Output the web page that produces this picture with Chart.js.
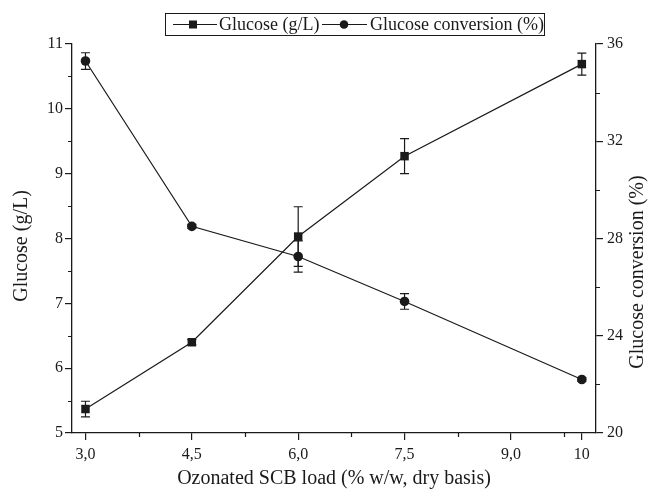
<!DOCTYPE html>
<html>
<head>
<meta charset="utf-8">
<script src="https://cdn.jsdelivr.net/npm/chart.js@4.4.0/dist/chart.umd.min.js"></script>
<style>
  html, body { margin: 0; padding: 0; background: #fff; }
  #wrap { width: 649px; height: 493px; }
</style>
</head>
<body>
<div id="wrap"><canvas id="chart" width="649" height="493"></canvas></div>
<script>
// Dados
const loads = [3.0, 4.5, 6.0, 7.5, 10];
const glucose = [5.37, 6.40, 8.03, 9.27, 10.69];
const glucoseErr = [0.12, 0.04, 0.46, 0.27, 0.17];
const conversion = [35.3, 28.5, 27.26, 25.41, 22.2];
const conversionErr = [0.34, 0.08, 0.64, 0.32, 0.08];

// Ticks
const xTicks = [3.0, 4.5, 6.0, 7.5, 9.0, 10];
const xTickLabels = ['3,0', '4,5', '6,0', '7,5', '9,0', '10'];
const xMinor = [3.75, 5.25, 6.75, 8.25, 9.75];
const leftTicks = [5, 6, 7, 8, 9, 10, 11];
const leftMinor = [5.5, 6.5, 7.5, 8.5, 9.5, 10.5];
const rightTicks = [20, 24, 28, 32, 36];
const rightMinor = [22, 26, 30, 34];

const FONT = "'Liberation Serif', 'Times New Roman', serif";
const INK = '#1a1a1a';

function toPoints(xs, ys) {
  return xs.map((x, i) => ({ x: x, y: ys[i] }));
}

// Plugin: barras de erro, ticks menores, títulos e legenda
const extras = {
  id: 'extras',
  beforeDatasetsDraw(chart) {
    const ctx = chart.ctx;
    const x = chart.scales.x;
    ctx.save();
    ctx.strokeStyle = INK;
    ctx.lineWidth = 1.2;
    const drawErr = (vals, errs, scale) => {
      vals.forEach((v, i) => {
        const px = x.getPixelForValue(loads[i]);
        const top = scale.getPixelForValue(v + errs[i]);
        const bot = scale.getPixelForValue(v - errs[i]);
        ctx.beginPath();
        ctx.moveTo(px, top); ctx.lineTo(px, bot);
        ctx.moveTo(px - 4.5, top); ctx.lineTo(px + 4.5, top);
        ctx.moveTo(px - 4.5, bot); ctx.lineTo(px + 4.5, bot);
        ctx.stroke();
      });
    };
    drawErr(glucose, glucoseErr, chart.scales.y);
    drawErr(conversion, conversionErr, chart.scales.y1);
    ctx.restore();
  },
  afterDraw(chart) {
    const ctx = chart.ctx;
    const area = chart.chartArea;
    const { x, y, y1 } = chart.scales;
    ctx.save();
    ctx.strokeStyle = INK;
    ctx.lineWidth = 1.2;

    // ticks menores
    ctx.beginPath();
    xMinor.forEach(v => {
      const p = Math.round(x.getPixelForValue(v)) + 0.5;
      ctx.moveTo(p, area.bottom); ctx.lineTo(p, area.bottom + 4);
    });
    leftMinor.forEach(v => {
      const p = Math.round(y.getPixelForValue(v)) + 0.5;
      ctx.moveTo(area.left, p); ctx.lineTo(area.left - 4, p);
    });
    rightMinor.forEach(v => {
      const p = Math.round(y1.getPixelForValue(v)) + 0.5;
      ctx.moveTo(area.right, p); ctx.lineTo(area.right + 4, p);
    });
    ctx.stroke();

    // títulos dos eixos
    ctx.fillStyle = INK;
    ctx.font = '20px ' + FONT;
    ctx.textAlign = 'center';
    ctx.textBaseline = 'middle';
    ctx.fillText('Ozonated SCB load (% w/w, dry basis)', (area.left + area.right) / 2, 479);

    ctx.save();
    ctx.translate(22, 246);
    ctx.rotate(-Math.PI / 2);
    ctx.fillText('Glucose (g/L)', 0, 0);
    ctx.restore();

    ctx.save();
    ctx.translate(638, 272);
    ctx.rotate(-Math.PI / 2);
    ctx.fillText('Glucose conversion (%)', 0, 0);
    ctx.restore();

    // legenda
    ctx.lineWidth = 1;
    ctx.strokeRect(165.5, 13.5, 379, 22);
    const ly = 24.5;
    ctx.lineWidth = 1.2;
    ctx.beginPath();
    ctx.moveTo(173, ly); ctx.lineTo(217, ly);
    ctx.moveTo(322, ly); ctx.lineTo(367, ly);
    ctx.stroke();
    ctx.fillRect(189, ly - 4, 8, 8);
    ctx.beginPath();
    ctx.arc(344, ly, 4.3, 0, Math.PI * 2);
    ctx.fill();
    ctx.font = '18px ' + FONT;
    ctx.textAlign = 'left';
    ctx.fillText('Glucose (g/L)', 219, ly + 1);
    ctx.fillText('Glucose conversion (%)', 370, ly + 1);
    ctx.restore();
  }
};

const tickFont = { family: FONT, size: 16 };

const chart = new Chart(document.getElementById('chart'), {
  type: 'line',
  data: {
    datasets: [
      {
        label: 'Glucose (g/L)',
        data: toPoints(loads, glucose),
        yAxisID: 'y',
        borderColor: INK,
        backgroundColor: INK,
        borderWidth: 1.2,
        pointStyle: 'rect',
        pointRadius: 6,
        pointBackgroundColor: INK,
        pointBorderWidth: 0,
        tension: 0
      },
      {
        label: 'Glucose conversion (%)',
        data: toPoints(loads, conversion),
        yAxisID: 'y1',
        borderColor: INK,
        backgroundColor: INK,
        borderWidth: 1.2,
        pointStyle: 'circle',
        pointRadius: 4.8,
        pointBackgroundColor: INK,
        pointBorderWidth: 0,
        tension: 0
      }
    ]
  },
  options: {
    responsive: false,
    animation: false,
    layout: { padding: { top: 44, left: 0, right: 0, bottom: 0 } },
    plugins: {
      legend: { display: false },
      tooltip: { enabled: false }
    },
    scales: {
      x: {
        type: 'linear',
        min: 2.81,
        max: 10.2,
        afterBuildTicks: s => { s.ticks = xTicks.map(v => ({ value: v })); },
        afterFit: s => { s.height = 60; },
        ticks: {
          color: INK,
          font: tickFont,
          padding: 5,
          maxRotation: 0,
          autoSkip: false,
          callback: (v, i) => xTickLabels[i]
        },
        grid: { drawOnChartArea: false, drawTicks: true, tickLength: 7, color: INK, lineWidth: 1.2 },
        border: { color: INK, width: 1.3 }
      },
      y: {
        position: 'left',
        min: 5,
        max: 11,
        afterBuildTicks: s => { s.ticks = leftTicks.map(v => ({ value: v })); },
        afterFit: s => { s.width = 72; },
        ticks: { color: INK, font: tickFont, padding: 2, autoSkip: false },
        grid: { drawOnChartArea: false, drawTicks: true, tickLength: 7, color: INK, lineWidth: 1.2 },
        border: { color: INK, width: 1.3 }
      },
      y1: {
        position: 'right',
        min: 20,
        max: 36,
        afterBuildTicks: s => { s.ticks = rightTicks.map(v => ({ value: v })); },
        afterFit: s => { s.width = 53; },
        ticks: { color: INK, font: tickFont, padding: 4, autoSkip: false },
        grid: { drawOnChartArea: false, drawTicks: true, tickLength: 7, color: INK, lineWidth: 1.2 },
        border: { color: INK, width: 1.3 }
      }
    }
  },
  plugins: [extras]
});
</script>
</body>
</html>
